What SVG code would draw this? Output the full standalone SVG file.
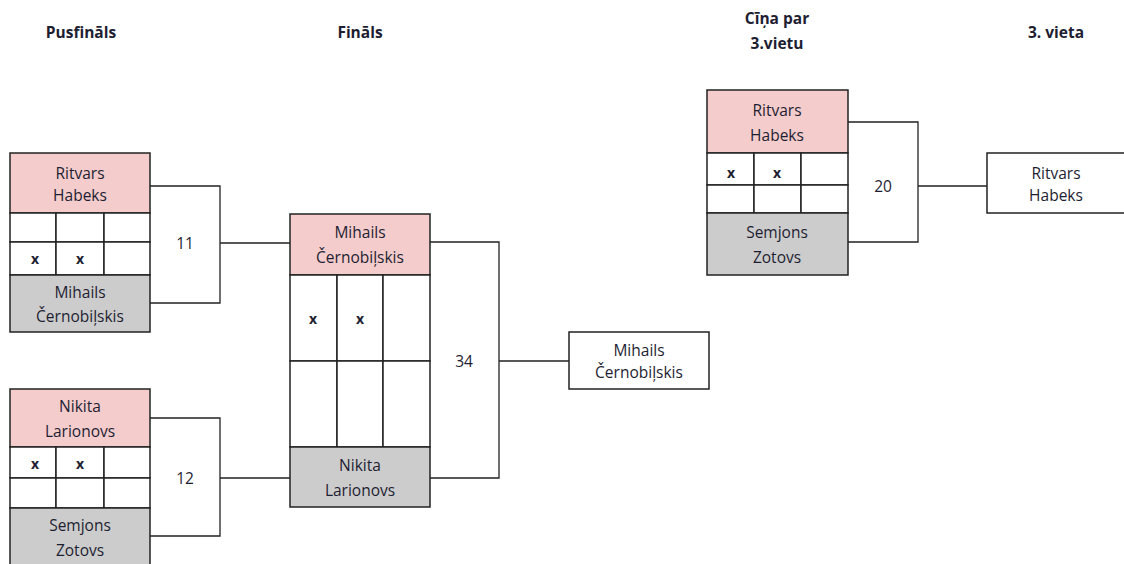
<svg xmlns="http://www.w3.org/2000/svg" width="1124" height="564" viewBox="0 0 1124 564">
<style>
text{font-family:"Open Sans","Noto Sans","Liberation Sans",sans-serif;fill:#1e1e32;text-anchor:middle;font-size:15.5px}
.h{font-weight:bold;font-size:15.5px}
.x{font-weight:bold;font-size:14px}
.pink{fill:#f4cccc;stroke:#222;stroke-width:1.5}
.grey{fill:#cccccc;stroke:#222;stroke-width:1.5}
.cell{fill:#fff;stroke:#222;stroke-width:1.5}
.ln{fill:none;stroke:#222;stroke-width:1.3}
</style>
<rect width="1124" height="564" fill="#fff"/>
<g id="headers">
<text class="h" x="81" y="38">Pusfināls</text>
<text class="h" x="360" y="38">Fināls</text>
<text class="h" x="777" y="24">Cīņa par</text>
<text class="h" x="777" y="49">3.vietu</text>
<text class="h" x="1056" y="38">3. vieta</text>
</g>
<g id="connectors">
<path class="ln" d="M150 186H220V303H150M220 243H290"/>
<path class="ln" d="M150 418H220V536H150M220 478H290"/>
<path class="ln" d="M430 242H499V478H430M499 361H569"/>
<path class="ln" d="M848 122H918V242H848M918 186H987"/>
<text x="185" y="249">11</text>
<text x="185" y="484">12</text>
<text x="464" y="367">34</text>
<text x="883" y="192">20</text>
</g>
<g id="semi1">
<rect class="pink" x="10" y="153" width="140" height="60"/>
<rect class="cell" x="10" y="213" width="46" height="29"/>
<rect class="cell" x="56" y="213" width="48" height="29"/>
<rect class="cell" x="104" y="213" width="46" height="29"/>
<rect class="cell" x="10" y="242" width="46" height="33"/>
<rect class="cell" x="56" y="242" width="48" height="33"/>
<rect class="cell" x="104" y="242" width="46" height="33"/>
<rect class="grey" x="10" y="275" width="140" height="57"/>
<text x="80" y="179">Ritvars</text>
<text x="80" y="201">Habeks</text>
<text class="x" x="35" y="264">x</text>
<text class="x" x="80" y="264">x</text>
<text x="80" y="298">Mihails</text>
<text x="80" y="322">Černobiļskis</text>
</g>
<g id="semi2">
<rect class="pink" x="10" y="389" width="140" height="58"/>
<rect class="cell" x="10" y="447" width="46" height="31"/>
<rect class="cell" x="56" y="447" width="48" height="31"/>
<rect class="cell" x="104" y="447" width="46" height="31"/>
<rect class="cell" x="10" y="478" width="46" height="30"/>
<rect class="cell" x="56" y="478" width="48" height="30"/>
<rect class="cell" x="104" y="478" width="46" height="30"/>
<rect class="grey" x="10" y="508" width="140" height="62"/>
<text x="80" y="412">Nikita</text>
<text x="80" y="437">Larionovs</text>
<text class="x" x="35" y="469">x</text>
<text class="x" x="80" y="469">x</text>
<text x="80" y="531">Semjons</text>
<text x="80" y="556">Zotovs</text>
</g>
<g id="final">
<rect class="pink" x="290" y="214" width="140" height="61"/>
<rect class="cell" x="290" y="275" width="47" height="86"/>
<rect class="cell" x="337" y="275" width="46" height="86"/>
<rect class="cell" x="383" y="275" width="47" height="86"/>
<rect class="cell" x="290" y="361" width="47" height="86"/>
<rect class="cell" x="337" y="361" width="46" height="86"/>
<rect class="cell" x="383" y="361" width="47" height="86"/>
<rect class="grey" x="290" y="447" width="140" height="60"/>
<text x="360" y="238">Mihails</text>
<text x="360" y="263">Černobiļskis</text>
<text class="x" x="313" y="324">x</text>
<text class="x" x="360" y="324">x</text>
<text x="360" y="471">Nikita</text>
<text x="360" y="496">Larionovs</text>
</g>
<g id="winner">
<rect class="cell" x="569" y="332" width="140" height="57"/>
<text x="639" y="356">Mihails</text>
<text x="639" y="378">Černobiļskis</text>
</g>
<g id="third">
<rect class="pink" x="707" y="90" width="141" height="63"/>
<rect class="cell" x="707" y="153" width="47" height="32"/>
<rect class="cell" x="754" y="153" width="47" height="32"/>
<rect class="cell" x="801" y="153" width="47" height="32"/>
<rect class="cell" x="707" y="185" width="47" height="28"/>
<rect class="cell" x="754" y="185" width="47" height="28"/>
<rect class="cell" x="801" y="185" width="47" height="28"/>
<rect class="grey" x="707" y="213" width="141" height="62"/>
<text x="777" y="116">Ritvars</text>
<text x="777" y="141">Habeks</text>
<text class="x" x="731" y="178">x</text>
<text class="x" x="777" y="178">x</text>
<text x="777" y="238">Semjons</text>
<text x="777" y="263">Zotovs</text>
</g>
<g id="third-winner">
<rect class="cell" x="987" y="153" width="150" height="60"/>
<text x="1056" y="179">Ritvars</text>
<text x="1056" y="201">Habeks</text>
</g>
</svg>
